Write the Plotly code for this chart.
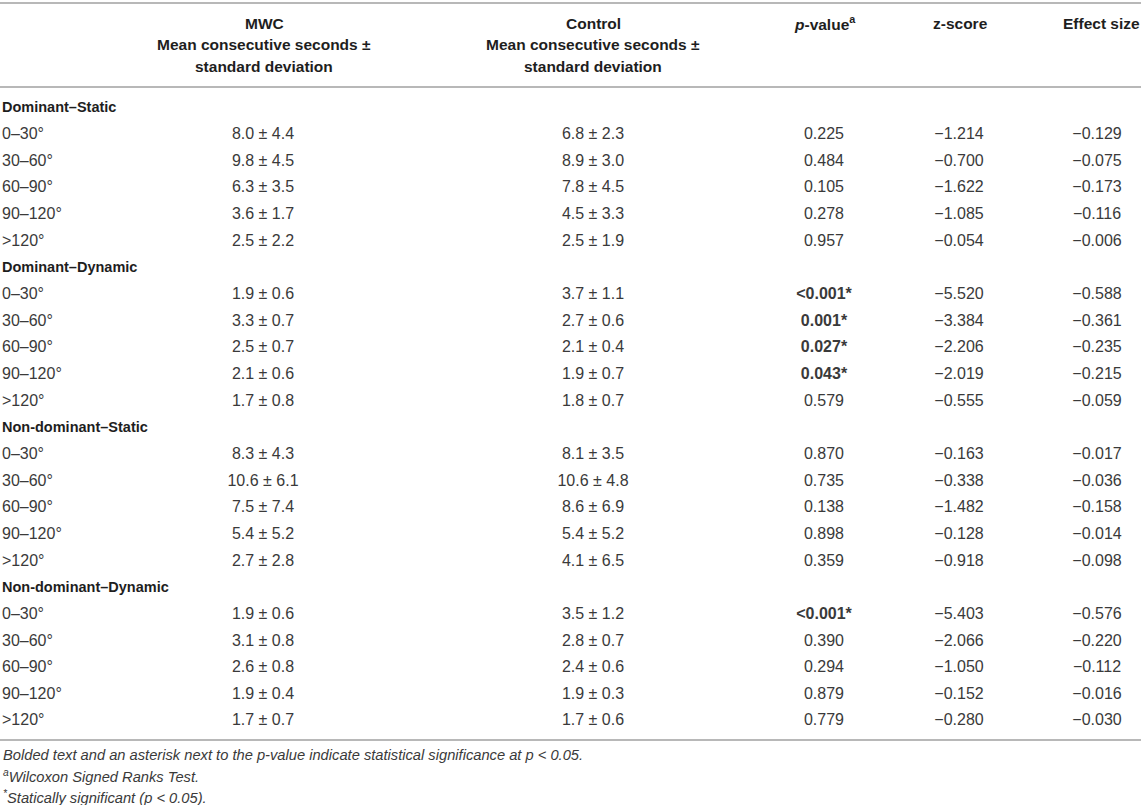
import plotly.graph_objects as go

# --- table data ---
groups = ["Dominant–Static", "Dominant–Dynamic", "Non-dominant–Static", "Non-dominant–Dynamic"]
angles = ["0–30°", "30–60°", "60–90°", "90–120°", ">120°"]

mwc_mean = [8.0, 9.8, 6.3, 3.6, 2.5, 1.9, 3.3, 2.5, 2.1, 1.7,
            8.3, 10.6, 7.5, 5.4, 2.7, 1.9, 3.1, 2.6, 1.9, 1.7]
mwc_sd = [4.4, 4.5, 3.5, 1.7, 2.2, 0.6, 0.7, 0.7, 0.6, 0.8,
          4.3, 6.1, 7.4, 5.2, 2.8, 0.6, 0.8, 0.8, 0.4, 0.7]
ctrl_mean = [6.8, 8.9, 7.8, 4.5, 2.5, 3.7, 2.7, 2.1, 1.9, 1.8,
             8.1, 10.6, 8.6, 5.4, 4.1, 3.5, 2.8, 2.4, 1.9, 1.7]
ctrl_sd = [2.3, 3.0, 4.5, 3.3, 1.9, 1.1, 0.6, 0.4, 0.7, 0.7,
           3.5, 4.8, 6.9, 5.2, 6.5, 1.2, 0.7, 0.6, 0.3, 0.6]
p_values = ["0.225", "0.484", "0.105", "0.278", "0.957",
            "<0.001", "0.001", "0.027", "0.043", "0.579",
            "0.870", "0.735", "0.138", "0.898", "0.359",
            "<0.001", "0.390", "0.294", "0.879", "0.779"]
z_scores = [-1.214, -0.700, -1.622, -1.085, -0.054, -5.520, -3.384, -2.206, -2.019, -0.555,
            -0.163, -0.338, -1.482, -0.128, -0.918, -5.403, -2.066, -1.050, -0.152, -0.280]
effect_sizes = [-0.129, -0.075, -0.173, -0.116, -0.006, -0.588, -0.361, -0.235, -0.215, -0.059,
                -0.017, -0.036, -0.158, -0.014, -0.098, -0.576, -0.220, -0.112, -0.016, -0.030]

headers = [
    ["MWC", "Mean consecutive seconds ±", "standard deviation"],
    ["Control", "Mean consecutive seconds ±", "standard deviation"],
    ["<i>p</i>-value<sup>a</sup>"],
    ["z-score"],
    ["Effect size"],
]
footnotes = [
    "Bolded text and an asterisk next to the p-value indicate statistical significance at p < 0.05.",
    "<sup>a</sup>Wilcoxon Signed Ranks Test.",
    "<sup>*</sup>Statically significant (p < 0.05).",
]

W, H = 1143, 805
FONT = "Liberation Sans, Arial, sans-serif"
TXT = "#3a3a3a"
HEAD = "#1e1e1e"
RULE = "#b8b8b8"

col_x = [263, 593, 824, 959, 1097]
header_x = [264, 593, 825, 960, 1101]
row0, row_h = 108.5, 26.65


def fmt(v):
    return f"{v:.3f}".replace("-", "−")


def is_sig(p):
    return float(p.lstrip("<")) < 0.05


# build rows
label_y, label_txt = [], []
group_y, group_txt = [], []
cell_x, cell_y, cell_txt = [], [], []
r = 0
for g, name in enumerate(groups):
    group_y.append(row0 + row_h * r)
    group_txt.append(f"<b>{name}</b>")
    r += 1
    for a, ang in enumerate(angles):
        k = g * len(angles) + a
        y = row0 + row_h * r
        label_y.append(y)
        label_txt.append(ang)
        p = p_values[k]
        ptxt = f"<b>{p}*</b>" if is_sig(p) else p
        vals = [f"{mwc_mean[k]:.1f} ± {mwc_sd[k]:.1f}",
                f"{ctrl_mean[k]:.1f} ± {ctrl_sd[k]:.1f}",
                ptxt, fmt(z_scores[k]), fmt(effect_sizes[k])]
        for cx, v in zip(col_x, vals):
            cell_x.append(cx)
            cell_y.append(y)
            cell_txt.append(v)
        r += 1

fig = go.Figure()
fig.add_trace(go.Scatter(
    x=[2] * len(group_y), y=group_y, text=group_txt, mode="text",
    textposition="middle right", textfont=dict(family=FONT, size=14.5, color=HEAD),
    hoverinfo="skip", showlegend=False))
fig.add_trace(go.Scatter(
    x=[2] * len(label_y), y=label_y, text=label_txt, mode="text",
    textposition="middle right", textfont=dict(family=FONT, size=16, color=TXT),
    hoverinfo="skip", showlegend=False))
fig.add_trace(go.Scatter(
    x=cell_x, y=cell_y, text=cell_txt, mode="text",
    textposition="middle center", textfont=dict(family=FONT, size=16, color=TXT),
    hoverinfo="skip", showlegend=False))

annotations = []
for hx, lines in zip(header_x, headers):
    for i, line in enumerate(lines):
        annotations.append(dict(
            x=hx, y=23 + 21.5 * i, xref="x", yref="y", text=f"<b>{line}</b>",
            showarrow=False, xanchor="center", yanchor="middle",
            font=dict(family=FONT, size=15.5, color=HEAD)))
for i, note in enumerate(footnotes):
    annotations.append(dict(
        x=1, y=755 + 21 * i, xref="x", yref="y", text=f"<i>{note}</i>",
        showarrow=False, xanchor="left", yanchor="middle",
        font=dict(family=FONT, size=14.7, color=TXT)))

shapes = [dict(type="line", x0=0, x1=1141, y0=yy, y1=yy, xref="x", yref="y",
               line=dict(color=RULE, width=2)) for yy in (3, 87, 740)]

fig.update_layout(
    width=W, height=H, margin=dict(l=0, r=0, t=0, b=0),
    paper_bgcolor="white", plot_bgcolor="white",
    xaxis=dict(range=[0, W], visible=False, fixedrange=True),
    yaxis=dict(range=[H, 0], visible=False, fixedrange=True),
    annotations=annotations, shapes=shapes,
)

fig.write_html("out.html", config={"displayModeBar": False},
               post_script="document.body.style.margin='0';")
